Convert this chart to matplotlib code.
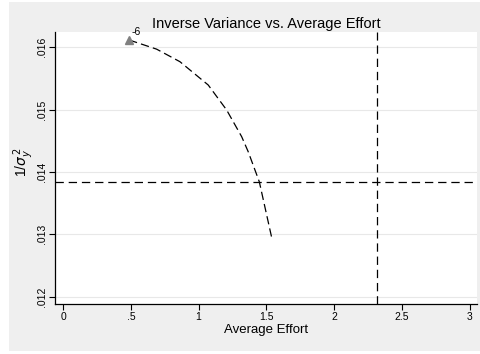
import numpy as np
import matplotlib
matplotlib.use("Agg")
from matplotlib import pyplot as plt
from matplotlib.patches import Rectangle

plt.rcParams['font.family'] = ['Liberation Sans', 'DejaVu Sans']
plt.rcParams['lines.scale_dashes'] = False

# curve: average effort vs inverse variance
effort = [0.487, 0.69, 0.862, 1.071, 1.207, 1.318, 1.366, 1.448, 1.539]
inv_var = [0.016117, 0.01597, 0.015769, 0.015395, 0.014994, 0.014566, 0.014326, 0.013844, 0.012953]
start_label = "-6"

ref_y = 0.013835
ref_x = 2.319

xticks = [0, 0.5, 1, 1.5, 2, 2.5, 3]
xtick_labels = ["0", ".5", "1", "1.5", "2", "2.5", "3"]
yticks = [0.012, 0.013, 0.014, 0.015, 0.016]
ytick_labels = [".012", ".013", ".014", ".015", ".016"]

W, H = 481, 354
fig = plt.figure(figsize=(W / 100, H / 100), dpi=100, facecolor='white')
bg = Rectangle((9 / W, 3 / H), 471 / W, 349 / H, transform=fig.transFigure,
               facecolor='#efefef', edgecolor='none', zorder=-10)
fig.add_artist(bg)

ax = fig.add_axes([55 / W, 1 - 304 / H, 422 / W, 272 / H])
ax.set_zorder(1)
ax.set_facecolor('white')

ax.set_xlim(-0.06, 3.055)
ax.set_ylim(0.011883, 0.016245)

for y in yticks:
    ax.axhline(y, color='#e8e8e8', lw=0.8, zorder=1)

ax.axhline(ref_y, color='black', lw=0.9, dashes=(6, 3.5), zorder=2)
ax.axvline(ref_x, color='black', lw=0.9, dashes=(6, 3.5), zorder=2)

ax.plot(effort, inv_var, color='black', lw=0.9, dashes=(6, 3), zorder=3)
ax.plot(effort[0], inv_var[0], marker='^', ms=5.5, color='#808080', ls='none', zorder=4)
ax.annotate(start_label, (effort[0], inv_var[0]), xytext=(2, 2), textcoords='offset points',
            fontsize=7.5, ha='left', va='bottom')

ax.set_xticks(xticks)
ax.set_xticklabels(xtick_labels, fontsize=7.5)
ax.set_yticks(yticks)
ax.set_yticklabels(ytick_labels, fontsize=7.5, rotation=90, va='center')
ax.tick_params(direction='out', length=4, width=0.8, colors='black', pad=2)

for s in ['top', 'right']:
    ax.spines[s].set_visible(False)
for s in ['left', 'bottom']:
    ax.spines[s].set_linewidth(0.9)

ax.set_xlabel('Average Effort', fontsize=9.5, labelpad=1)
ax.set_ylabel(r'1/$\sigma_y^{\,2}$', fontsize=10)
ax.yaxis.set_label_coords(-0.044, 0.52)
ax.set_title('Inverse Variance vs. Average Effort', fontsize=10.5, pad=3)

fig.savefig('out.png', dpi=100, facecolor=fig.get_facecolor())
